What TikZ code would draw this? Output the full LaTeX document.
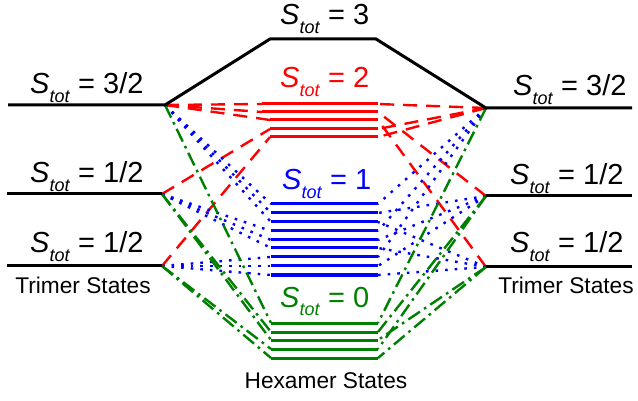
\documentclass[tikz,border=0pt]{standalone}
\usepackage{fontspec}
\setmainfont{Liberation Sans}
\definecolor{lvred}{RGB}{255,0,0}
\definecolor{lvblue}{RGB}{0,0,255}
\definecolor{lvgreen}{RGB}{0,128,0}
% S_tot = value, with an italic subscript
\newcommand{\stotlab}[1]{\fontsize{29}{34}\selectfont\textit{S}\raisebox{-9pt}{\fontsize{18}{20}\selectfont\textit{tot}} = #1}

\begin{document}
\begin{tikzpicture}[x=1pt,y=-1pt,
  level/.style={line width=3pt},
  conn/.style={line width=2.4pt},
  reddash/.style={conn, lvred, dash pattern=on 14pt off 9pt},
  bluedot/.style={conn, lvblue, dash pattern=on 2.6pt off 7pt},
  greendd/.style={conn, lvgreen, dash pattern=on 14pt off 5pt on 2.6pt off 5pt},
  lab/.style={anchor=base west, inner sep=0pt},
  caption/.style={anchor=base, inner sep=0pt, font=\fontsize{22.7}{26}\selectfont}]
\useasboundingbox (0,0) rectangle (638,401);

% trimer level end points
\coordinate (L3) at (165,105);
\coordinate (La) at (162,194);
\coordinate (Lb) at (162,266);
\coordinate (R3) at (486,108);
\coordinate (Ra) at (486,196);
\coordinate (Rb) at (486,267);
\coordinate (L3o) at (8,105);
\coordinate (Lao) at (7,194);
\coordinate (Lbo) at (7,266);
\coordinate (R3o) at (632,108);
\coordinate (Rao) at (632,196);
\coordinate (Rbo) at (632,267);

% hexamer levels
\coordinate (T1) at (270,39);
\coordinate (T2) at (376,39);
\foreach \i/\x/\y in {1/262/104,2/262/112,3/270/120,4/270/129,5/270/137}
  {\coordinate (r\i w) at (\x,\y); \coordinate (r\i e) at (378,\y);}
\foreach \i/\y in {1/204,2/213,3/222,4/231,5/240,6/248,7/257,8/266,9/275}
  {\coordinate (b\i w) at (271,\y); \coordinate (b\i e) at (378,\y);}
\foreach \i/\y in {1/323,2/332,3/340,4/349,5/358}
  {\coordinate (g\i w) at (271,\y); \coordinate (g\i e) at (378,\y);}

% S_tot = 2 couplings
\foreach \i/\a/\b in {1/L3/R3,2/L3/Ra,3/L3/Rb,4/La/R3,5/Lb/R3}
  {\draw[reddash] (\a) -- (r\i w); \draw[reddash] (\b) -- (r\i e);}
% S_tot = 1 couplings
\foreach \i/\a/\b in {1/L3/R3,2/L3/Ra,3/L3/Rb,4/La/R3,5/La/Ra,6/La/Rb,7/Lb/R3,8/Lb/Ra,9/Lb/Rb}
  {\draw[bluedot] (\a) -- (b\i w); \draw[bluedot] (\b) -- (b\i e);}
% S_tot = 0 couplings
\foreach \i/\a/\b in {1/L3/R3,2/La/Ra,3/La/Rb,4/Lb/Ra,5/Lb/Rb}
  {\draw[greendd] (\a) -- (g\i w); \draw[greendd] (\b) -- (g\i e);}

% trimer levels and S_tot = 3
\draw[level] (L3o) -- (L3) -- (T1) -- (T2) -- (R3) -- (R3o);
\draw[level] (Lao) -- (La);
\draw[level] (Lbo) -- (Lb);
\draw[level] (Rao) -- (Ra);
\draw[level] (Rbo) -- (Rb);

% hexamer level lines
\foreach \i in {1,...,5} {\draw[level, lvred] (r\i w) -- (r\i e);}
\foreach \i in {1,...,9} {\draw[level, lvblue] (b\i w) -- (b\i e);}
\foreach \i in {1,...,5} {\draw[level, lvgreen] (g\i w) -- (g\i e);}

% labels
\node[lab] (t3) at (280,25) {\stotlab{3}};
\node[lab, text=lvred] (t2) at (280,88) {\stotlab{2}};
\node[lab, text=lvblue] (t1) at (282,190) {\stotlab{1}};
\node[lab, text=lvgreen] (t0) at (280,307) {\stotlab{0}};
\node[lab] (l3) at (30,94) {\stotlab{3/2}};
\node[lab] (la) at (30,183) {\stotlab{1/2}};
\node[lab] (lb) at (30,253) {\stotlab{1/2}};
\node[lab] (r3) at (513,96) {\stotlab{3/2}};
\node[lab] (ra) at (510,185) {\stotlab{1/2}};
\node[lab] (rb) at (510,253) {\stotlab{1/2}};
\node[caption] (ltrim) at (83,293) {Trimer States};
\node[caption] (rtrim) at (566,293) {Trimer States};
\node[caption] (hexa) at (326,388) {Hexamer States};
\end{tikzpicture}
\end{document}
